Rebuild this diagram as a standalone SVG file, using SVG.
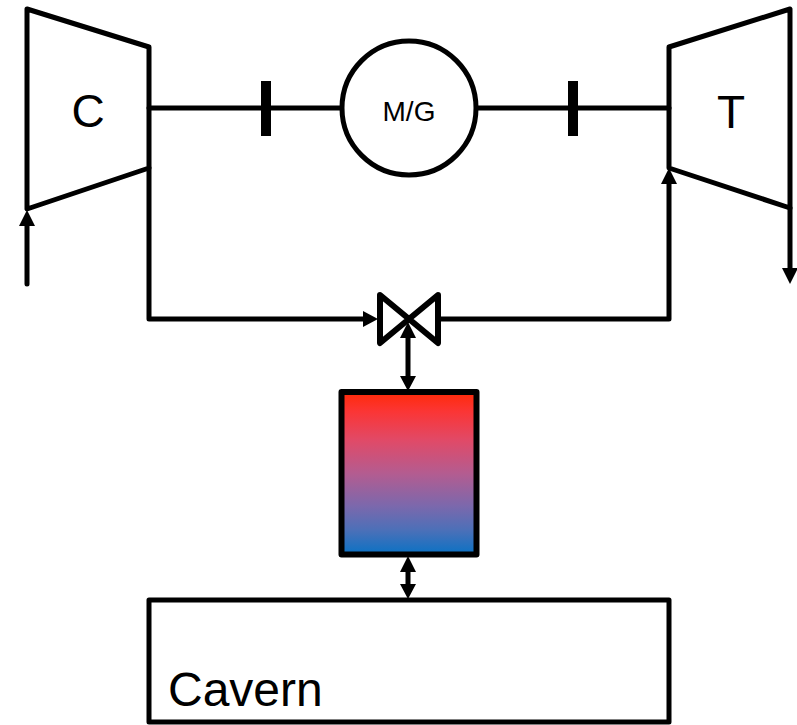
<svg xmlns="http://www.w3.org/2000/svg" width="797" height="725" viewBox="0 0 797 725">
<style>
.s{fill:none;stroke:#000;stroke-width:5;stroke-linejoin:round;stroke-linecap:round}
.v{stroke-width:6}
.h{fill:#000;stroke:none}
.t{font-family:"Liberation Sans",Arial,sans-serif;fill:#000}
</style>
<defs>
<linearGradient id="g" x1="0" y1="0" x2="0" y2="1">
<stop offset="0" stop-color="#ff2a08"/>
<stop offset="0.12" stop-color="#fb3535"/>
<stop offset="0.3" stop-color="#e04a68"/>
<stop offset="0.5" stop-color="#b45c90"/>
<stop offset="0.7" stop-color="#7c68ac"/>
<stop offset="0.85" stop-color="#4c70b8"/>
<stop offset="1" stop-color="#0a72c4"/>
</linearGradient>
</defs>
<rect width="797" height="725" fill="#fff"/>
<g id="connectors">
<path class="s" d="M149 108H341"/>
<path class="s" d="M477 108H669"/>
<path d="M266 81V136M573 81V136" fill="none" stroke="#000" stroke-width="10"/>
<path class="s" d="M27 284V225"/><path class="h" d="M27 210L35 226H19Z"/>
<path class="s" d="M790 208V270"/><path class="h" d="M790 284L782 268H798Z"/>
<path class="s" d="M149 168V319H366"/><path class="h" d="M378 319L363 311V327Z"/>
<path class="s" d="M669 182V319H441"/><path class="h" d="M669 168L677 184H661Z"/>
<path class="s" d="M408 335V378"/><path class="h" d="M408 322L416 338H400Z"/><path class="h" d="M408 391L416 376H400Z"/>
<path class="s" d="M408 568V588"/><path class="h" d="M408 556L416 572H400Z"/><path class="h" d="M408 599L416 584H400Z"/>
</g>
<g id="compressor"><path class="s" d="M27 9L149 47V168L27 209Z"/><text class="t" x="88" y="127" font-size="46" text-anchor="middle">C</text></g>
<g id="motor-generator"><circle class="s" cx="409" cy="108" r="67"/><text class="t" x="409" y="121" font-size="28" text-anchor="middle">M/G</text></g>
<g id="turbine"><path class="s" d="M669 47L790 9V208L669 168Z"/><text class="t" x="731" y="128" font-size="46" text-anchor="middle">T</text></g>
<g id="valve"><path class="s v" d="M380 295L438 343V295L380 343Z"/></g>
<g id="storage"><rect x="341.500" y="392" width="135" height="162.500" fill="url(#g)" stroke="#000" stroke-width="6" stroke-linejoin="round"/></g>
<g id="cavern"><rect class="s" x="149" y="600" width="520" height="122"/><text class="t" x="168" y="706" font-size="48">Cavern</text></g>
</svg>
